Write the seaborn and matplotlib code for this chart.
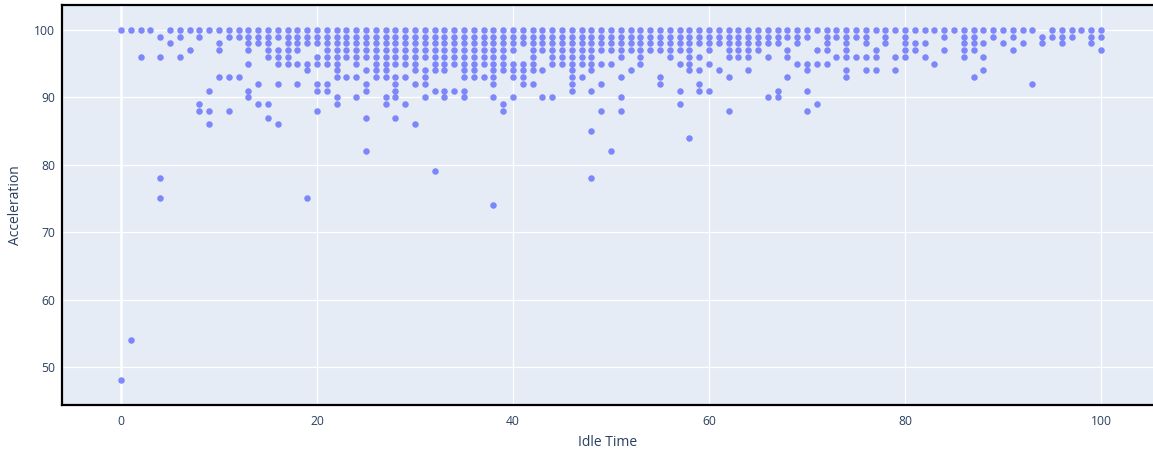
import numpy as np
import pandas as pd
import matplotlib
matplotlib.use('Agg')
import matplotlib.pyplot as plt
import seaborn as sns

# idle times found at each acceleration level
acc_100 = [x for x in range(0, 101) if x not in (4, 94)]
acc_99 = [4, 6, 8] + list(range(11, 70)) + [70, 72, 73, 74, 75, 76, 78, 80, 84, 86, 87, 89, 91, 94, 95, 96, 97, 99, 100]
acc_98 = [5, 10, 13, 14, 15, 17, 18] + list(range(19, 68)) + [69, 72, 74, 76, 78, 80, 81, 82, 86, 87, 88, 90, 92, 94, 96, 99]
acc_97 = [7, 10, 13, 15, 16, 17, 18] + list(range(21, 41)) + list(range(42, 59)) + [60, 62, 63, 64, 65, 68, 71, 72, 74, 77, 80, 81, 84, 86, 87, 91, 100]
acc_96 = [2, 4, 6, 15, 16, 17] + list(range(20, 40)) + [42, 44, 45, 46, 47, 48, 51, 53, 56, 58, 59, 62, 63, 64, 66, 68, 73, 74, 75, 76, 77, 79, 80, 82, 86, 88]
acc_95 = [13, 16, 17, 18, 19, 20, 21, 22, 24, 26, 27, 28, 29, 30] + list(range(32, 43)) + [44, 45, 46, 47, 48, 49, 50, 53, 57, 58, 60, 69, 70, 71, 72, 83]
acc_94 = [19, 22, 25, 26, 27, 30, 31, 32, 33, 35, 36, 38, 39, 40, 41, 42, 43, 46, 48, 52, 58, 59, 61, 64, 70, 74, 76, 77, 79, 88]
acc_93 = [10, 11, 12, 22, 23, 24, 26, 27, 28, 29, 31, 35, 36, 37, 38, 40, 41, 46, 47, 51, 55, 62, 68, 74, 87]
acc_92 = [14, 16, 18, 20, 21, 25, 28, 30, 31, 38, 41, 42, 46, 49, 55, 59, 93]
acc_91 = [9, 13, 20, 21, 25, 28, 32, 33, 34, 35, 46, 48, 57, 59, 60, 67, 70]
acc_90 = [13, 22, 24, 27, 28, 31, 33, 35, 38, 40, 43, 44, 51, 66, 67]
acc_89 = [8, 14, 15, 22, 27, 29, 39, 57, 71]
acc_88 = [8, 9, 11, 20, 39, 49, 51, 62, 70]
acc_87 = [15, 25, 28]
acc_86 = [9, 16, 30]
acc_85 = [48]
acc_84 = [58]
acc_82 = [25, 50]
acc_79 = [32]
acc_78 = [4, 48]
acc_75 = [4, 19]
acc_74 = [38]
acc_54 = [1]
acc_48 = [0]

levels = {100: acc_100, 99: acc_99, 98: acc_98, 97: acc_97, 96: acc_96,
          95: acc_95, 94: acc_94, 93: acc_93, 92: acc_92, 91: acc_91,
          90: acc_90, 89: acc_89, 88: acc_88, 87: acc_87, 86: acc_86,
          85: acc_85, 84: acc_84, 82: acc_82, 79: acc_79, 78: acc_78,
          75: acc_75, 74: acc_74, 54: acc_54, 48: acc_48}

rows = []
for acc, xs in levels.items():
    for x in xs:
        rows.append((x, acc))
df = pd.DataFrame(rows, columns=['Idle Time', 'Acceleration'])

TEXT = '#2a3f5f'

sns.set_style('darkgrid', {'axes.facecolor': '#e5ecf6', 'grid.color': 'white'})
plt.rcParams['font.family'] = ['Open Sans', 'DejaVu Sans']

fig = plt.figure(figsize=(11.53, 4.51), dpi=100)
ax = fig.add_axes([62 / 1153, 46 / 451, 1 - 62 / 1153, 400 / 451])

sns.scatterplot(data=df, x='Idle Time', y='Acceleration', ax=ax,
                color='#636efa', alpha=0.8, s=22, linewidth=0, zorder=3)

ax.set_xlim(-6.02, 105.3)
ax.set_ylim(44.36, 103.7)
ax.set_xticks([0, 20, 40, 60, 80, 100])
ax.set_yticks([50, 60, 70, 80, 90, 100])
ax.grid(True, color='white', linewidth=0.9)
ax.axvline(0, color='white', linewidth=1.8, zorder=1)
ax.tick_params(axis='both', length=0, labelsize=8.7, labelcolor=TEXT)
ax.tick_params(axis='y', pad=5)
ax.tick_params(axis='x', pad=7)

for side in ['left', 'top', 'bottom']:
    ax.spines[side].set_visible(True)
    ax.spines[side].set_color('black')
    ax.spines[side].set_linewidth(1.6)
ax.spines['right'].set_visible(False)

ax.set_xlabel('Idle Time', fontsize=10, color=TEXT, labelpad=5)
ax.set_ylabel('Acceleration', fontsize=10, color=TEXT, labelpad=8)

fig.savefig('out.png', dpi=100)
